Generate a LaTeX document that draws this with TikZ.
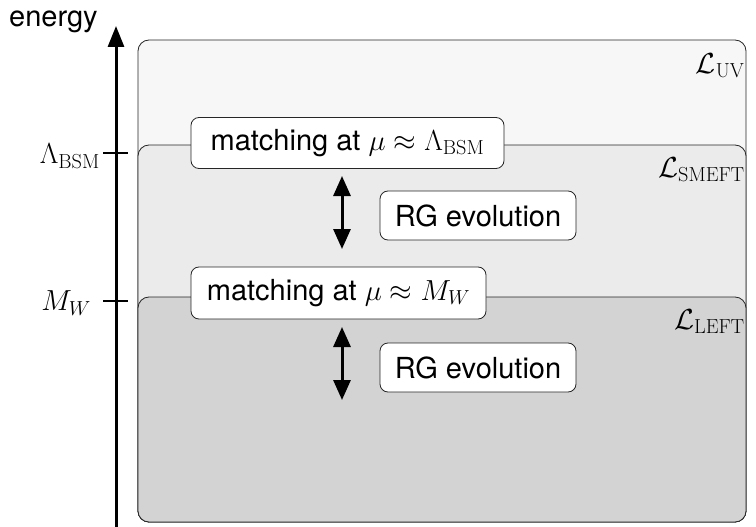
\RequirePackage{fix-cm}
\documentclass[tikz,border=0pt]{standalone}
\usepackage[no-math]{fontspec}
\setmainfont{TeX Gyre Heros}
\usetikzlibrary{arrows.meta}
\definecolor{uvfill}{RGB}{247,247,247}
\definecolor{smfill}{RGB}{235,235,235}
\definecolor{lefill}{RGB}{211,211,211}
\tikzset{
  txt/.style={font=\fontsize{29}{34}\selectfont},
  region/.style={draw=black!85, line width=0.8pt, rounded corners=11pt},
  stage/.style={txt, draw=black!85, fill=white, line width=0.8pt, rounded corners=8pt, inner sep=0pt},
  lag/.style={txt, anchor=north east, inner sep=0pt},
  axlab/.style={txt, anchor=east, inner sep=0pt},
  dbl/.style={{Triangle[length=20pt,width=17pt]}-{Triangle[length=20pt,width=17pt]}, line width=3pt},
}
\begin{document}
\begin{tikzpicture}[x=1pt,y=-1pt]
\useasboundingbox (0,0) rectangle (756,527);
% regions
\draw[region, fill=uvfill] (138,40) rectangle (746,522);
\draw[region, fill=smfill] (138,145) rectangle (746,522);
\draw[region, fill=lefill] (138,297) rectangle (746,522);
\node[lag] (luv) at (745,53) {$\mathcal{L}_{\mathrm{UV}}$};
\node[lag] (lsm) at (745,157) {$\mathcal{L}_{\mathrm{SMEFT}}$};
\node[lag] (lle) at (745,309) {$\mathcal{L}_{\mathrm{LEFT}}$};
% axis
\coordinate (abot) at (116,530);
\coordinate (atop) at (116,26);
\draw[-{Triangle[length=21pt,width=16pt]}, line width=3pt] (abot) -- (atop);
\node[txt, anchor=base west, inner sep=0pt] (en) at (9,27) {energy};
\coordinate (t1a) at (103,153); \coordinate (t1b) at (128,153);
\coordinate (t2a) at (103,301); \coordinate (t2b) at (128,301);
\draw[line width=2.6pt] (t1a) -- (t1b);
\draw[line width=2.6pt] (t2a) -- (t2b);
\node[axlab] (lbsm) at (100,156) {$\Lambda_{\mathrm{BSM}}$};
\node[axlab] (lmw) at (91,303) {$M_W$};
% stages
\node[stage, minimum width=313pt, minimum height=51pt] (m1) at (347.5,143) {matching at $\mu\approx\Lambda_{\mathrm{BSM}}$};
\node[stage, minimum width=295pt, minimum height=52pt] (m2) at (338.5,293) {matching at $\mu\approx M_W$};
\node[stage, minimum width=196pt, minimum height=49pt] (r1) at (478,215.5) {RG evolution};
\node[stage, minimum width=196pt, minimum height=49pt] (r2) at (478,367.5) {RG evolution};
\coordinate (a1t) at (342,176); \coordinate (a1b) at (342,249);
\coordinate (a2t) at (342,327); \coordinate (a2b) at (342,400);
\draw[dbl] (a1t) -- (a1b);
\draw[dbl] (a2t) -- (a2b);
\end{tikzpicture}
\end{document}
